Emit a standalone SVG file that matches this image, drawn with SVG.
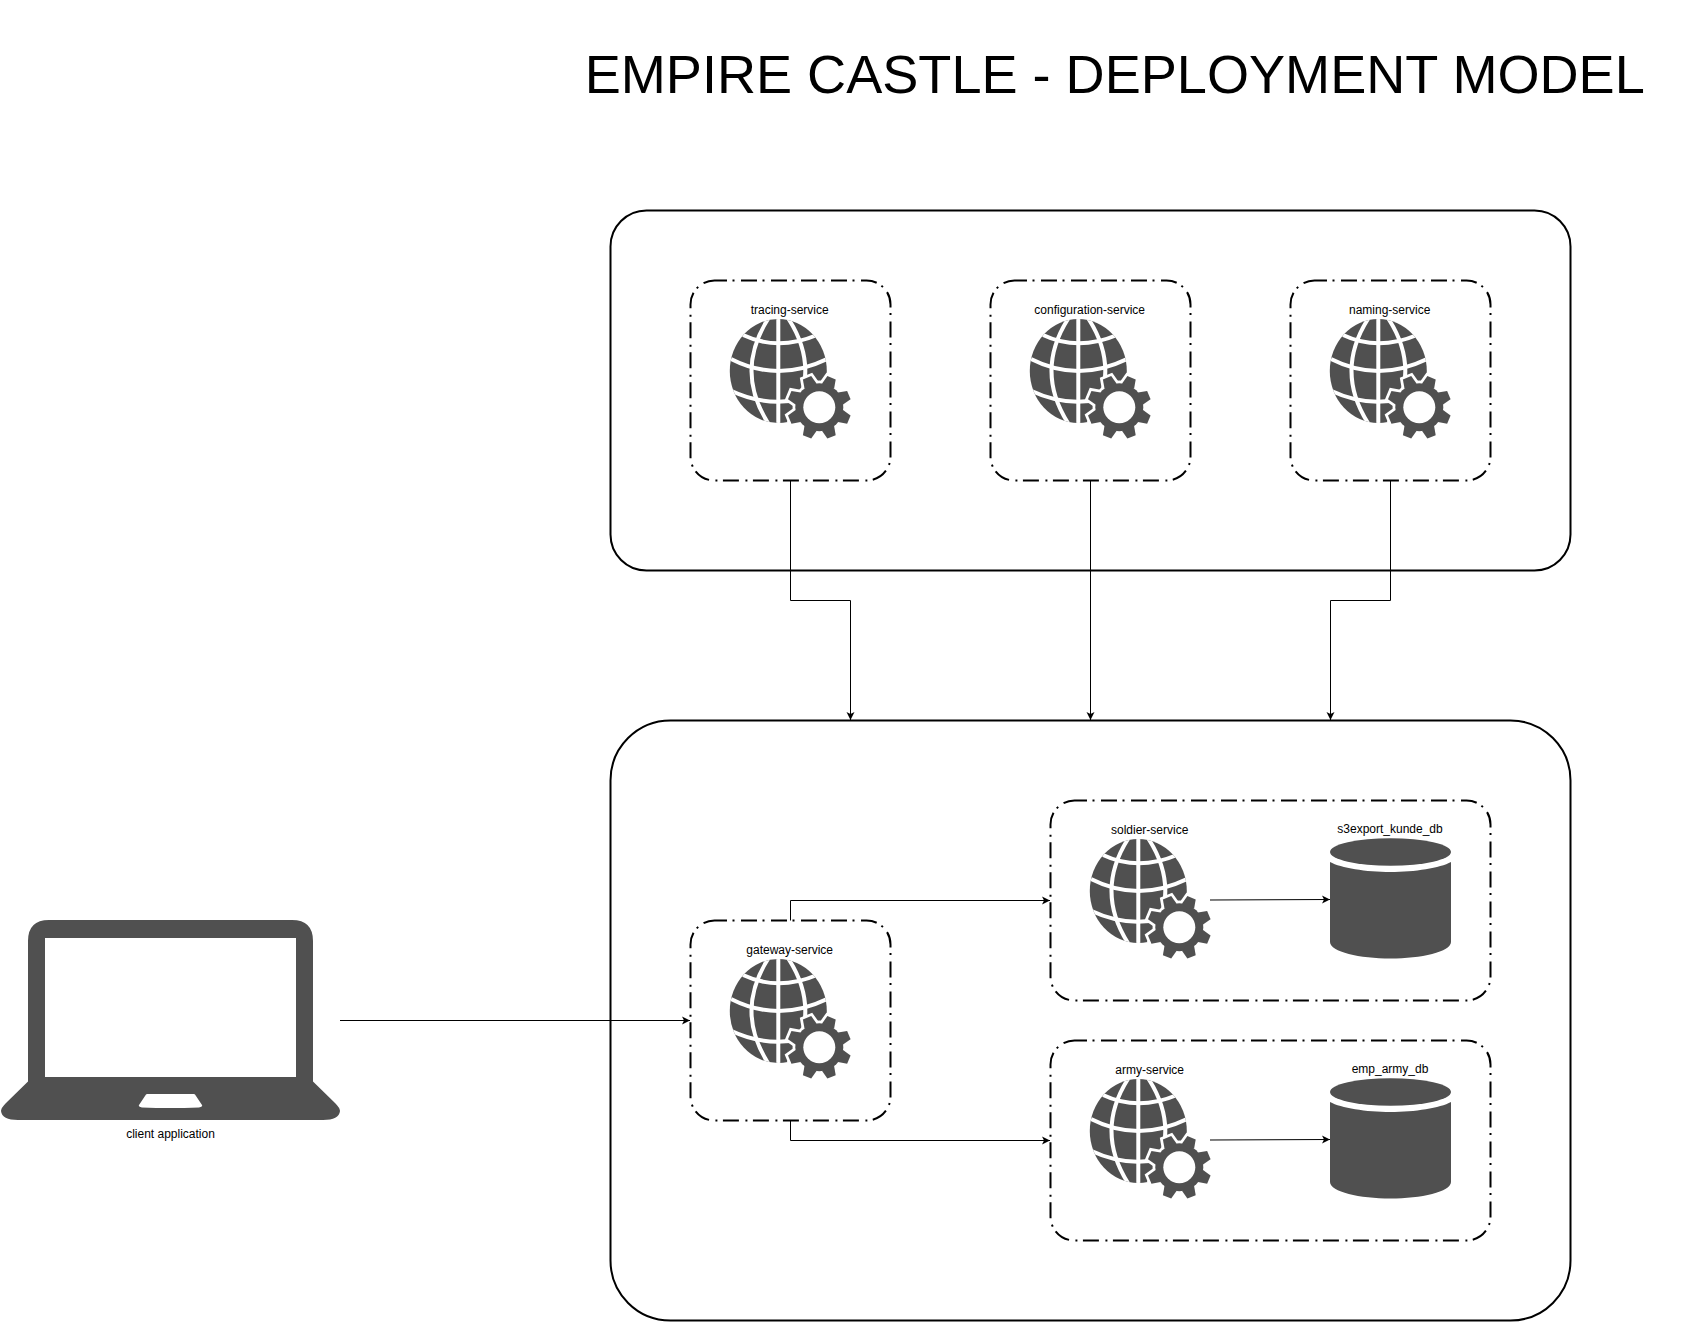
<svg xmlns="http://www.w3.org/2000/svg" xmlns:xlink="http://www.w3.org/1999/xlink" width="1691" height="1322" viewBox="0 0 1691 1322">
<style>
text{font-family:"Liberation Sans",Arial,sans-serif;fill:#000;text-anchor:middle}
.lbl{font-size:12px}
.title{font-size:54.1px;text-anchor:start}
.outer{fill:none;stroke:#000;stroke-width:2}
.svc{fill:none;stroke:#000;stroke-width:2;stroke-dasharray:16 5.5 2 6.5;stroke-dashoffset:3.5}
.wire{fill:none;stroke:#000;stroke-width:1;marker-end:url(#arrow)}
.ic{fill:#505050}
.gl{fill:none;stroke:#fff;stroke-width:4}
</style>
<defs>
<marker id="arrow" markerUnits="userSpaceOnUse" markerWidth="9" markerHeight="9" refX="8" refY="4" orient="auto" overflow="visible"><path d="M0 0L8 4L0 8L2 4Z" fill="#000"/></marker>
<clipPath id="gc"><ellipse cx="778.3" cy="371" rx="48.5" ry="52"/></clipPath>
<g id="gearshape">
<circle r="24"/>
<g><polygon points="-6.5,-23 -4.5,-32 4.5,-32 6.5,-23 0,-20" transform="rotate(22.5)"/><polygon points="-6.5,-23 -4.5,-32 4.5,-32 6.5,-23 0,-20" transform="rotate(67.5)"/><polygon points="-6.5,-23 -4.5,-32 4.5,-32 6.5,-23 0,-20" transform="rotate(112.5)"/><polygon points="-6.5,-23 -4.5,-32 4.5,-32 6.5,-23 0,-20" transform="rotate(157.5)"/><polygon points="-6.5,-23 -4.5,-32 4.5,-32 6.5,-23 0,-20" transform="rotate(202.5)"/><polygon points="-6.5,-23 -4.5,-32 4.5,-32 6.5,-23 0,-20" transform="rotate(247.5)"/><polygon points="-6.5,-23 -4.5,-32 4.5,-32 6.5,-23 0,-20" transform="rotate(292.5)"/><polygon points="-6.5,-23 -4.5,-32 4.5,-32 6.5,-23 0,-20" transform="rotate(337.5)"/></g>
</g>
<g id="svcicon">
<ellipse class="ic" cx="778.3" cy="371" rx="48.5" ry="52"/>
<g clip-path="url(#gc)" class="gl">
<path d="M778.3 315V427"/>
<path d="M768 319Q735 371 768 423"/>
<path d="M788.6 319Q822 371 788.6 423"/>
<path d="M743 335Q778 351.6 817 335"/>
<path d="M731 359Q778 383 827 359"/>
<path d="M731 390.7Q778 413 827 390"/>
</g>
<use href="#gearshape" transform="translate(819.3,407.3)" fill="#fff" stroke="#fff" stroke-width="5.5"/>
<use href="#gearshape" transform="translate(819.3,407.3)" fill="#505050"/>
<circle cx="819.3" cy="407.3" r="16" fill="#fff"/>
</g>
<g id="dbicon">
<path class="ic" d="M1330 862V942C1330 952 1360 958.5 1390.5 958.5C1421 958.5 1451 952 1451 942V862C1440 868 1415 872 1390.5 872C1366 872 1341 868 1330 862Z"/>
<ellipse class="ic" cx="1390.5" cy="852" rx="60.5" ry="13.7"/>
</g>
</defs>
<rect width="1691" height="1322" fill="#fff"/>
<text class="title" x="584.7" y="93">EMPIRE CASTLE - DEPLOYMENT MODEL</text>
<g id="infra-zone"><rect class="outer" x="610.5" y="210.5" width="960" height="360" rx="36"/></g>
<g id="app-zone"><rect class="outer" x="610.5" y="720.5" width="960" height="600" rx="60"/></g>
<g id="tracing-service">
<rect class="svc" x="690.5" y="280.5" width="200" height="200" rx="24"/>
<text class="lbl" x="789.7" y="314">tracing-service</text>
<use href="#svcicon"/>
</g>
<g id="configuration-service">
<rect class="svc" x="990.5" y="280.5" width="200" height="200" rx="24"/>
<text class="lbl" x="1089.7" y="314">configuration-service</text>
<use href="#svcicon" x="300"/>
</g>
<g id="naming-service">
<rect class="svc" x="1290.5" y="280.5" width="200" height="200" rx="24"/>
<text class="lbl" x="1389.7" y="314">naming-service</text>
<use href="#svcicon" x="600"/>
</g>
<g id="gateway-service">
<rect class="svc" x="690.5" y="920.5" width="200" height="200" rx="24"/>
<text class="lbl" x="789.7" y="954">gateway-service</text>
<use href="#svcicon" y="640"/>
</g>
<g id="soldier-service">
<rect class="svc" x="1050.5" y="800.5" width="440" height="200" rx="24"/>
<text class="lbl" x="1149.7" y="834">soldier-service</text>
<use href="#svcicon" x="360" y="520"/>
<text class="lbl" x="1390" y="833">s3export_kunde_db</text>
<use href="#dbicon"/>
</g>
<g id="army-service">
<rect class="svc" x="1050.5" y="1040.5" width="440" height="200" rx="24"/>
<text class="lbl" x="1149.7" y="1074">army-service</text>
<use href="#svcicon" x="360" y="760"/>
<text class="lbl" x="1390" y="1073">emp_army_db</text>
<use href="#dbicon" y="240"/>
</g>
<g id="client-application">
<path class="ic" fill-rule="evenodd" d="M28 1081.5V941Q28 920 49 920H292Q313 920 313 941V1081.5L335 1103Q340 1108 340 1111Q339 1120 323 1120H18Q2 1120 1 1111Q1 1108 6 1103ZM45 938V1077H296V938ZM147 1094Q146 1094 145 1096L139 1105Q138 1107 142 1107.5Q170 1108.5 199 1107.5Q203 1107 202 1105L196 1096Q195 1094 194 1094Z"/>
<text class="lbl" x="170.5" y="1138">client application</text>
</g>
<g id="connectors">
<path class="wire" d="M790.5 480.5V600.5H850.5V720"/>
<path class="wire" d="M1090.5 480.5V720"/>
<path class="wire" d="M1390.5 480.5V600.5H1330.5V720"/>
<path class="wire" d="M340 1020.5H690"/>
<path class="wire" d="M790.5 920.5V900.5H1050"/>
<path class="wire" d="M790.5 1120.5V1140.5H1050"/>
<path class="wire" d="M1210 900L1330 899.5"/>
<path class="wire" d="M1210 1140L1330 1139.5"/>
</g>
</svg>
